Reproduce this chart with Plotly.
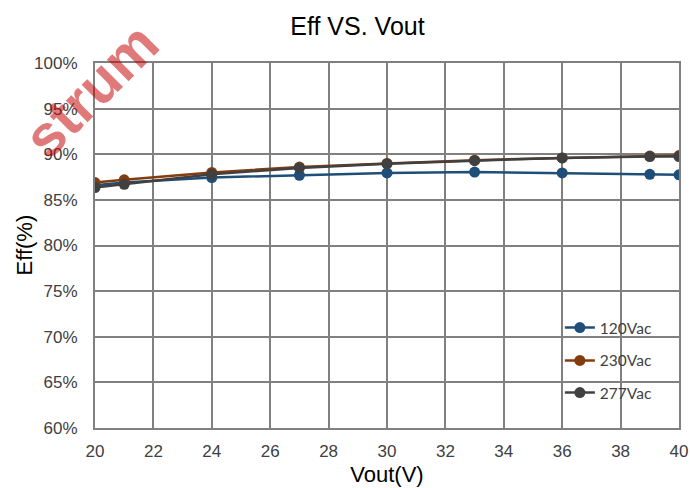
import plotly.graph_objects as go

vout = [20, 21, 24, 27, 30, 33, 36, 39, 40]
eff_120 = [86.6, 86.9, 87.45, 87.7, 87.95, 88.05, 87.95, 87.8, 87.75]
eff_230 = [86.9, 87.2, 88.0, 88.6, 89.0, 89.35, 89.6, 89.8, 89.85]
eff_277 = [86.35, 86.7, 87.8, 88.5, 88.95, 89.3, 89.6, 89.75, 89.75]
series_names = ["120Vac", "230Vac", "277Vac"]
colors = ["#1F4E79", "#843C0C", "#404040"]

legend_ids = ["legend", "legend2", "legend3"]
legend_y = [0.274, 0.184, 0.096]

fig = go.Figure()
for name, ys, c, lg in zip(series_names, [eff_120, eff_230, eff_277], colors, legend_ids):
    fig.add_trace(go.Scatter(x=vout, y=ys, name=name, mode="lines+markers",
                             line=dict(color=c, width=2.5),
                             marker=dict(color=c, size=11), legend=lg))

legend_common = dict(x=0.796, xanchor="left", yanchor="middle", bgcolor="rgba(0,0,0,0)",
                     font=dict(family="Lato, Open Sans", size=15.5, color="#404040"))

fig.update_layout(
    width=690, height=488,
    margin=dict(l=95, r=11, t=63, b=60, autoexpand=False),
    paper_bgcolor="white", plot_bgcolor="white",
    title=dict(text="Eff VS. Vout", x=(357.5 - 95) / 584, xref="paper", xanchor="center",
               y=1 - 26 / 488, yanchor="middle",
               font=dict(family="Liberation Sans, Arial", size=25, color="#000000")),
    font=dict(family="Liberation Sans, Arial", color="#404040"),
    showlegend=True,
    legend=dict(y=legend_y[0], **legend_common),
    legend2=dict(y=legend_y[1], **legend_common),
    legend3=dict(y=legend_y[2], **legend_common),
    xaxis=dict(range=[20, 40], dtick=2, tick0=20, showgrid=True, gridcolor="#808080", gridwidth=2,
               showline=True, linecolor="#808080", linewidth=2, mirror=True, zeroline=False,
               automargin=False,
               ticks="", tickfont=dict(size=17, color="#404040"), ticklabelstandoff=7,
               title=dict(text="Vout(V)", font=dict(size=22, color="#000000"), standoff=6)),
    yaxis=dict(range=[60, 100], dtick=5, showgrid=True, gridcolor="#808080", gridwidth=2,
               showline=True, linecolor="#808080", linewidth=2, mirror=True, zeroline=False,
               automargin=False,
               ticks="", ticksuffix="%", tickfont=dict(size=17, color="#404040"), ticklabelstandoff=12),
)

fig.add_annotation(text="Eff(%)", xref="paper", yref="paper",
                   x=(24 - 95) / 584, y=0.5, xanchor="center", yanchor="middle",
                   showarrow=False, textangle=-90,
                   font=dict(family="Liberation Sans, Arial", size=22, color="#000000"))

fig.add_annotation(text="<b>strum</b>", xref="paper", yref="paper",
                   x=(90 - 95) / 584, y=1 - (90 - 63) / 365, xanchor="center", yanchor="middle",
                   showarrow=False, textangle=-45,
                   font=dict(family="Liberation Sans, Arial", size=58, color="rgba(195,0,0,0.52)"))

fig.write_html("out.html")
